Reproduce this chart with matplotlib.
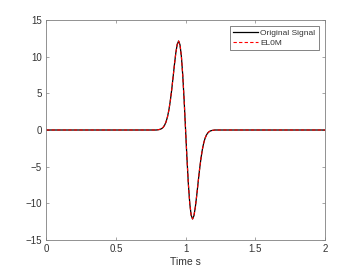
import matplotlib
matplotlib.use("Agg")
import matplotlib.pyplot as plt

plt.rcParams['font.family'] = ['Liberation Sans', 'DejaVu Sans']

# Time samples (s) and signal values
t_vals = [0.0, 0.79, 0.80, 0.81, 0.82, 0.83, 0.84, 0.85, 0.86, 0.87, 0.88, 0.89,
          0.90, 0.91, 0.92, 0.93, 0.94, 0.95, 0.96, 0.97, 0.98, 0.99, 1.00,
          1.01, 1.02, 1.03, 1.04, 1.05, 1.06, 1.07, 1.08, 1.09, 1.10, 1.11,
          1.12, 1.13, 1.14, 1.15, 1.16, 1.17, 1.18, 1.19, 1.20, 1.21, 2.0]
original = [0.0, 0.0, 0.03, 0.06, 0.11, 0.21, 0.38, 0.67, 1.11, 1.77, 2.69, 3.91,
            5.41, 7.12, 8.90, 10.51, 11.68, 12.13, 11.62, 10.02, 7.38, 3.92, 0.0,
            -3.92, -7.38, -10.02, -11.62, -12.13, -11.68, -10.51, -8.90, -7.12, -5.41, -3.91,
            -2.69, -1.77, -1.11, -0.67, -0.38, -0.21, -0.11, -0.06, -0.03, 0.0, 0.0]
el0m = list(original)

x_ticks = [0, 0.5, 1, 1.5, 2]
x_labels = ['0', '0.5', '1', '1.5', '2']
y_ticks = [-15, -10, -5, 0, 5, 10, 15]

fig = plt.figure(figsize=(3.6, 2.7), dpi=100)
ax = fig.add_axes([0.128, 0.111, 0.775, 0.815])

ax.plot(t_vals, original, color='black', lw=0.9, label='Original Signal')
ax.plot(t_vals, el0m, color='#ff0000', lw=0.8, ls=(0, (3, 2)), label='EL0M')

ax.set_xlim(0, 2)
ax.set_ylim(-15, 15)
ax.set_xticks(x_ticks)
ax.set_xticklabels(x_labels)
ax.set_yticks(y_ticks)

axc = '#333333'
for s in ax.spines.values():
    s.set_color('#808080')
    s.set_linewidth(0.6)
ax.tick_params(direction='in', length=2.5, width=0.5, colors='#808080',
               labelcolor=axc, labelsize=7, top=True, right=True, pad=3)
ax.set_xlabel('Time s', fontsize=7.5, color=axc, labelpad=2)

leg = ax.legend(loc='upper right', fontsize=6, frameon=True, fancybox=False,
                borderaxespad=0.75, handlelength=3.0, handletextpad=0.3,
                borderpad=0.4, labelspacing=0.2)
leg.get_frame().set_edgecolor('#262626')
leg.get_frame().set_linewidth(0.5)
for txt in leg.get_texts():
    txt.set_color(axc)

fig.savefig('out.png', dpi=100)
